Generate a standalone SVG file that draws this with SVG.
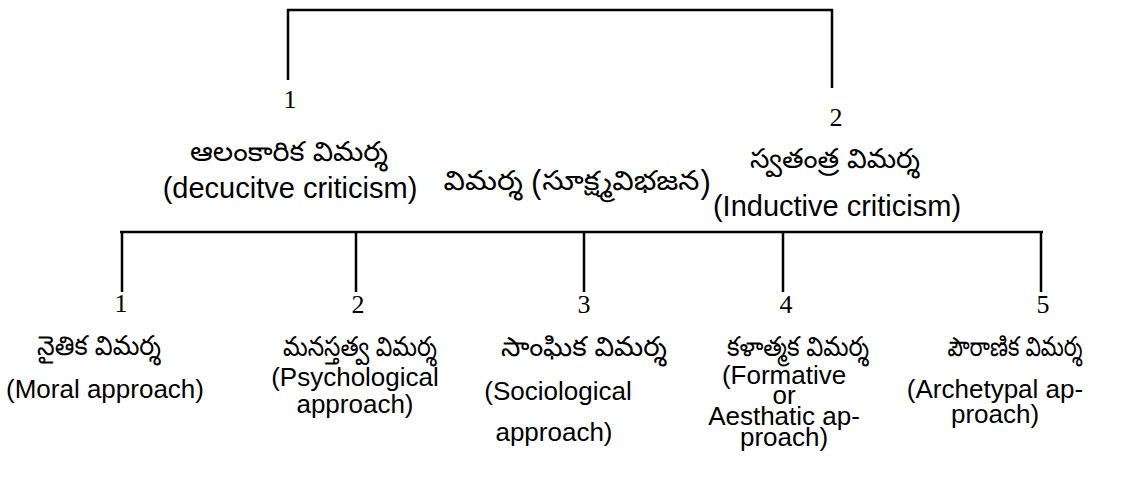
<svg xmlns="http://www.w3.org/2000/svg" width="1146" height="479" viewBox="0 0 1146 479">
<style>
.ln{stroke:#000;stroke-width:2.5;fill:none}
.num{font-family:"Liberation Serif","DejaVu Serif",serif;font-size:26px;fill:#000;text-anchor:middle}
.te{font-family:"Noto Sans Telugu","Noto Sans","DejaVu Sans",sans-serif;font-size:27px;fill:#000;text-anchor:middle}
.en{font-family:"Liberation Sans",Arial,sans-serif;font-size:29px;fill:#000;text-anchor:middle}
.enb{font-family:"Liberation Sans",Arial,sans-serif;font-size:26px;fill:#000;text-anchor:middle}
</style>
<rect width="1146" height="479" fill="#fff"/>
<g id="connectors">
<path class="ln" d="M288 80 V10 H832 V88"/>
<path class="ln" d="M120 232 H1043"/>
<path class="ln" d="M122 232 V292 M356 232 V292 M584 232 V292 M783 232 V292 M1041 232 V292"/>
</g>
<g id="top1">
<text class="num" x="290" y="108">1</text>
<text class="te" x="289" y="161" textLength="198" lengthAdjust="spacingAndGlyphs">ఆలంకారిక విమర్శ</text>
<text class="en" x="290" y="198">(decucitve criticism)</text>
</g>
<g id="root">
<text class="te" x="577" y="190" textLength="267" lengthAdjust="spacingAndGlyphs">విమర్శ  (సూక్ష్మవిభజన)</text>
</g>
<g id="top2">
<text class="num" x="836" y="126">2</text>
<text class="te" x="835" y="168" textLength="170" lengthAdjust="spacingAndGlyphs">స్వతంత్ర విమర్శ</text>
<text class="en" x="837" y="216">(Inductive criticism)</text>
</g>
<g id="n1">
<text class="num" x="121" y="312">1</text>
<text class="te" x="99" y="355" textLength="124" lengthAdjust="spacingAndGlyphs">నైతిక విమర్శ</text>
<text class="enb" x="105" y="398">(Moral approach)</text>
</g>
<g id="n2">
<text class="num" x="358" y="313">2</text>
<text class="te" x="360" y="356" textLength="154" lengthAdjust="spacingAndGlyphs">మనస్తత్వ విమర్శ</text>
<text class="enb" x="355" y="386">(Psychological</text>
<text class="enb" x="355" y="413">approach)</text>
</g>
<g id="n3">
<text class="num" x="584" y="313">3</text>
<text class="te" x="584" y="356" textLength="166" lengthAdjust="spacingAndGlyphs">సాంఘిక విమర్శ</text>
<text class="enb" x="558" y="400">(Sociological</text>
<text class="enb" x="554" y="441">approach)</text>
</g>
<g id="n4">
<text class="num" x="786" y="313">4</text>
<text class="te" x="798" y="356" textLength="142" lengthAdjust="spacingAndGlyphs">కళాత్మక విమర్శ</text>
<text class="enb" x="784" y="384">(Formative</text>
<text class="enb" x="784" y="404">or</text>
<text class="enb" x="784" y="425">Aesthatic ap-</text>
<text class="enb" x="784" y="446">proach)</text>
</g>
<g id="n5">
<text class="num" x="1043" y="313">5</text>
<text class="te" x="1015" y="356" textLength="135" lengthAdjust="spacingAndGlyphs">పౌరాణిక విమర్శ</text>
<text class="enb" x="995" y="398">(Archetypal ap-</text>
<text class="enb" x="995" y="423">proach)</text>
</g>
</svg>
